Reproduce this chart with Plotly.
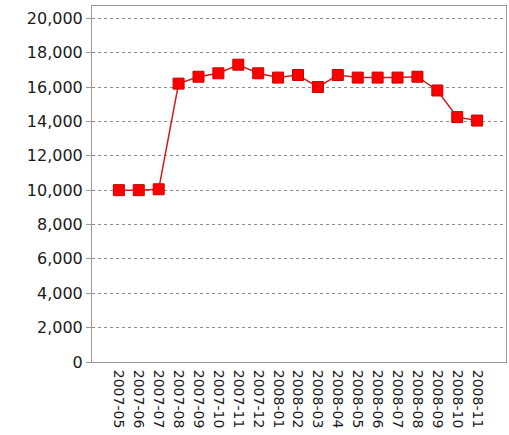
import plotly.graph_objects as go

months = ["2007-05", "2007-06", "2007-07", "2007-08", "2007-09", "2007-10",
          "2007-11", "2007-12", "2008-01", "2008-02", "2008-03", "2008-04",
          "2008-05", "2008-06", "2008-07", "2008-08", "2008-09", "2008-10",
          "2008-11"]
values = [10000, 10000, 10050, 16200, 16600, 16800, 17300, 16800, 16550,
          16700, 16000, 16700, 16550, 16550, 16550, 16600, 15800, 14250, 14050]
y_ticks = [0, 2000, 4000, 6000, 8000, 10000, 12000, 14000, 16000, 18000, 20000]

fig = go.Figure()
fig.add_trace(go.Scatter(
    x=list(range(len(months))), y=values, mode="lines+markers",
    line=dict(color="#d81818", width=1.5),
    marker=dict(symbol="square", size=11, color="#ff0000",
                line=dict(color="#cc0000", width=1)),
    showlegend=False, hoverinfo="skip",
))

fig.update_layout(
    width=509, height=435,
    margin=dict(l=92, r=3, t=6, b=73, autoexpand=False),
    paper_bgcolor="white", plot_bgcolor="white",
    font=dict(family="DejaVu Sans", color="#1a1a1a"),
)
fig.update_xaxes(
    range=[-1.35, 19.45], automargin=False,
    tickmode="array", tickvals=list(range(len(months))), ticktext=months,
    tickangle=90, tickfont=dict(size=14, family="DejaVu Sans", color="#1a1a1a"),
    showgrid=False, zeroline=False,
    showline=True, linecolor="#999999", linewidth=1, mirror=True,
    ticks="", ticklabelstandoff=4,
)
fig.update_yaxes(
    range=[0, 20716], automargin=False,
    tickmode="array", tickvals=y_ticks,
    ticktext=[f"{v:,}" for v in y_ticks],
    tickfont=dict(size=16, family="DejaVu Sans", color="#1a1a1a"),
    showgrid=True, gridcolor="#8a8a8a", griddash="3px,3px", gridwidth=1,
    zeroline=False,
    showline=True, linecolor="#999999", linewidth=1, mirror=True,
    ticks="outside", ticklen=5, tickcolor="#999999",
)

fig.write_html(
    "out.html",
    config={"displayModeBar": False, "staticPlot": True},
    post_script="document.body.style.margin='0';document.body.style.overflow='hidden';",
)
